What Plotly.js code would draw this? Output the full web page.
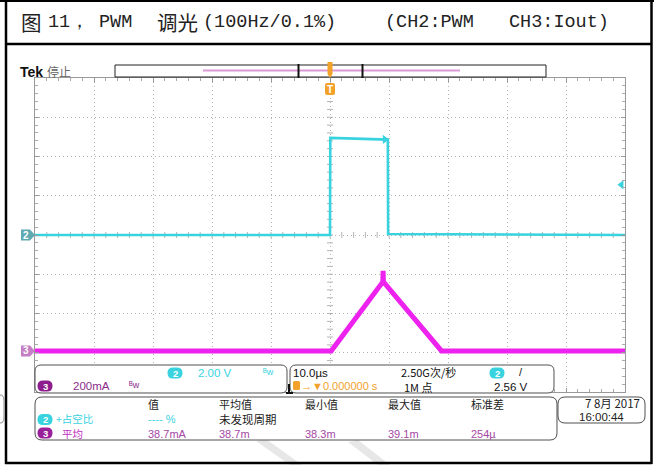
<!DOCTYPE html>
<html><head><meta charset="utf-8">
<script src="https://cdn.plot.ly/plotly-3.0.1.min.js"></script>
<style>html,body{margin:0;padding:0;background:#fff}#chart{width:654px;height:465px}</style>
</head><body><div id="chart"></div>
<script>
// ---------------- data ----------------
const ch2Time = [-50, 0, 0.05, 5, 9.3, 9.8, 9.85, 50];        // µs
const ch2Volt = [0, 0, 4.95, 4.92, 4.88, 4.86, 0.05, 0];      // V
const ch3Time = [-50, 0.2, 8.95, 9.0, 9.05, 18.9, 50];        // µs
const ch3Current = [0, 0, 352, 408, 352, 0, 0];               // mA
const timePerDiv = 10;      // µs/div
const ch2VoltsPerDiv = 2;   // V/div
const ch3AmpsPerDiv = 200;  // mA/div
const ch3OffsetDiv = -2.955;
const triggerLevel = 2.56;  // V
const titlePieces = ['图', '11，', 'PWM', '调光', '(100Hz/0.1%)', '(CH2:PWM', 'CH3:Iout)'];
const measHeaders = ['值', '平均值', '最小值', '最大值', '标准差'];
const ch2MeasLabel = '+占空比';
const ch2Meas = ['---- %', '未发现周期'];
const ch3MeasLabel = '平均';
const ch3Meas = ['38.7mA', '38.7m', '38.3m', '39.1m', '254µ'];

// ---------------- geometry ----------------
const W = 654, H = 465;
const X0 = 35, X1 = 625, Y0 = 78, Y1 = 392;
const px = x => x / W, py = y => 1 - y / H;
const P = (x, y) => `${px(x).toFixed(5)},${py(y).toFixed(5)}`;
const CYAN = '#38d3df', MAG = '#ee22ee', ORANGE = '#f2a22a', GRID = '#b4b4b4';
const SANS = 'Liberation Sans, Noto Sans CJK SC, sans-serif';
const CJK = 'Noto Sans CJK SC, sans-serif';
const MONO = 'Liberation Mono, DejaVu Sans Mono, monospace';

function rrPath(x0, y0, x1, y1, r) {
  return `M${P(x0 + r, y0)} L${P(x1 - r, y0)} Q${P(x1, y0)} ${P(x1, y0 + r)} L${P(x1, y1 - r)} Q${P(x1, y1)} ${P(x1 - r, y1)} L${P(x0 + r, y1)} Q${P(x0, y1)} ${P(x0, y1 - r)} L${P(x0, y0 + r)} Q${P(x0, y0)} ${P(x0 + r, y0)} Z`;
}
const shapes = [];
const ann = [];
function pathShape(path, fill, lineColor, lw, layer) {
  shapes.push({type: 'path', xref: 'paper', yref: 'paper', path, fillcolor: fill || 'rgba(0,0,0,0)',
    line: {color: lineColor || 'rgba(0,0,0,0)', width: lw || 0}, layer: layer || 'above'});
}
function lineShape(x0, y0, x1, y1, color, w, layer) {
  shapes.push({type: 'line', xref: 'paper', yref: 'paper', x0: px(x0), y0: py(y0), x1: px(x1), y1: py(y1),
    line: {color, width: w}, layer: layer || 'above'});
}
function text(x, y, t, size, color, opts) {
  opts = opts || {};
  ann.push({xref: 'paper', yref: 'paper', x: px(x), y: py(y), text: t, showarrow: false, borderpad: 0,
    xanchor: opts.anchor || 'left', yanchor: 'middle',
    font: {family: opts.family || SANS, size, color, weight: opts.weight || 'normal'}});
}
function badge(cx, cy, label, color) {
  pathShape(rrPath(cx - 7.5, cy - 5.5, cx + 7.5, cy + 5.5, 5.5), color, null, 0);
  text(cx, cy, label, 9.5, '#fff', {anchor: 'center', weight: 'bold'});
}

// ---------------- document table frame ----------------
lineShape(0, 1, W, 1, '#000', 2);
lineShape(6, 0, 6, 464, '#000', 2.5);
lineShape(651.5, 0, 651.5, 464, '#000', 2.5);
lineShape(5, 44, 652, 44, '#000', 2.5);
lineShape(5, 463, 652, 463, '#000', 2.5);
const titleX = [20, 47, 98, 156, 202, 384, 508];
const titleCJK = [true, false, false, true, false, false, false];
titlePieces.forEach((t, i) => text(titleX[i], 22, t, titleCJK[i] ? 20.5 : 18.5, '#222',
  {family: titleCJK[i] ? CJK : MONO}));

// ---------------- graticule center ticks ----------------
const divH = (Y1 - Y0) / 8, divW = (X1 - X0) / 10;
const cy = (Y0 + Y1) / 2, cx = (X0 + X1) / 2;
for (let i = 1; i < 50; i++) {
  const x = X0 + i * divW / 5;
  lineShape(x, cy - 3, x, cy + 3, GRID, 1, 'below');
}
for (let j = 1; j < 40; j++) {
  const y = Y0 + j * divH / 5;
  lineShape(cx - 3, y, cx + 3, y, GRID, 1, 'below');
}

// ---------------- header: Tek, record bar ----------------
text(19, 72, 'Tek', 14, '#111', {weight: 'bold', family: 'Liberation Sans, sans-serif'});
text(46, 72, '停止', 12, '#666', {family: CJK});
shapes.push({type: 'rect', xref: 'paper', yref: 'paper', x0: px(115), x1: px(546), y0: py(65), y1: py(77),
  line: {color: '#222', width: 1}, fillcolor: '#fff', layer: 'above'});
lineShape(203, 70.5, 460, 70.5, '#d99ad6', 2);
lineShape(298.5, 64, 298.5, 78, '#111', 2);
lineShape(362.5, 64, 362.5, 78, '#111', 2);
pathShape(`M${P(327.5, 62)} L${P(332.5, 62)} L${P(332.5, 74)} L${P(330, 78)} L${P(327.5, 74)} Z`, ORANGE);
// trigger position marker
pathShape(rrPath(325, 83, 335, 95, 2), ORANGE);
text(330, 89, 'T', 10, '#fff', {anchor: 'center', weight: 'bold'});

// ---------------- channel ground markers ----------------
function gndMarker(yc, label, color) {
  pathShape(`M${P(21, yc - 5.5)} L${P(30, yc - 5.5)} L${P(35, yc)} L${P(30, yc + 5.5)} L${P(21, yc + 5.5)} Z`, color);
  text(26, yc, label, 10, '#fff', {anchor: 'center', weight: 'bold'});
}
gndMarker(Y0 + 4 * divH, '2', '#5fa9b1');
gndMarker(Y0 + (4 - ch3OffsetDiv) * divH, '3', '#c47ec4');

// ---------------- info panels ----------------
const panelLine = '#505050';
pathShape(rrPath(35, 365, 287, 393, 6), '#fff', panelLine, 1);
pathShape(rrPath(290, 365, 554, 393, 6), '#fff', panelLine, 1);
lineShape(289, 384, 289, 393, '#111', 2);
lineShape(286, 393, 293, 393, '#111', 2);
badge(175, 373, '2', CYAN);
text(197, 373, '2.00 V', 11.5, CYAN);
text(262, 372, 'ᴮw', 9, CYAN);
badge(45, 386, '3', '#8d1c8d');
text(72, 386, '200mA', 11.5, '#8a2a8a');
text(128, 385, 'ᴮw', 9, '#8a2a8a');

text(292, 373, '10.0µs', 11.5, '#111');
pathShape(rrPath(293, 381, 300, 390, 1.5), ORANGE);
text(300, 386, '→▼0.000000 s', 11, ORANGE);
text(400, 372, '2.50G次/秒', 11, '#111', {family: CJK});
text(403, 387, '1M 点', 11, '#111', {family: CJK});
badge(497, 373, '2', CYAN);
text(518, 372, '/', 11, '#111');
text(493, 387, '2.56 V', 11.5, '#111');

pathShape(rrPath(35, 397, 557, 440, 7), '#fff', panelLine, 1);
const colX = [147, 218, 304, 387, 470];
measHeaders.forEach((h, i) => text(colX[i], 403.5, h, 11, '#222', {family: CJK}));
badge(45, 419.5, '2', CYAN);
text(55, 418.5, ch2MeasLabel, 10.5, CYAN, {family: CJK});
text(colX[0], 419, ch2Meas[0], 11, CYAN);
text(colX[1], 419, ch2Meas[1], 11.5, '#222', {family: CJK});
badge(45, 433, '3', '#9a1f9a');
text(61, 433.5, ch3MeasLabel, 10.5, '#c030c0', {family: CJK});
ch3Meas.forEach((v, i) => text(colX[i], 433.5, v, 11, '#a547a5'));

pathShape(rrPath(558, 397, 645, 423, 7), '#fff', panelLine, 1);
text(641, 403, '7 8月 2017', 11.5, '#222', {family: CJK, anchor: 'right'});
text(578, 416.5, '16:00:44', 11.5, '#222');
// partial box on left edge
pathShape(`M${P(0, 395)} Q${P(4, 395)} ${P(4, 400)} L${P(4, 418)} Q${P(4, 423)} ${P(0, 423)}`, null, '#888', 1);

// watermark strokes
pathShape(`M${P(256, 441)} L${P(266, 439)} L${P(302, 465)} L${P(290, 465)} Z`, '#e7e7e7', null, 0, 'below');
pathShape(`M${P(348, 442)} L${P(358, 440)} L${P(390, 465)} L${P(378, 465)} Z`, '#e7e7e7', null, 0, 'below');

// ---------------- traces ----------------
const tMin = -5 * timePerDiv, tMax = 5 * timePerDiv;
const traces = [
  {x: ch2Time, y: ch2Volt, type: 'scatter', mode: 'lines', line: {color: CYAN, width: 2.6}, yaxis: 'y', hoverinfo: 'skip'},
  {x: [ch2Time[3] + 4.3], y: [ch2Volt[3] - 0.05], type: 'scatter', mode: 'markers',
    marker: {symbol: 'triangle-right', size: 8, color: CYAN}, yaxis: 'y', hoverinfo: 'skip'},
  {x: ch3Time, y: ch3Current, type: 'scatter', mode: 'lines', line: {color: MAG, width: 5}, yaxis: 'y2', hoverinfo: 'skip'},
  {x: [tMax - 0.6], y: [triggerLevel], type: 'scatter', mode: 'markers', cliponaxis: false,
    marker: {symbol: 'triangle-left', size: 8, color: CYAN}, yaxis: 'y', hoverinfo: 'skip'}
];

const axCommon = {showticklabels: false, showgrid: true, gridcolor: GRID, griddash: '1px,3px', gridwidth: 1,
  zeroline: false, showline: true, mirror: 'ticks', linecolor: '#999', linewidth: 1,
  ticks: 'inside', ticklen: 4, tickcolor: '#999', fixedrange: true};
const layout = {
  width: W, height: H, margin: {l: 0, r: 0, t: 0, b: 0}, paper_bgcolor: '#fff', plot_bgcolor: '#fff',
  showlegend: false,
  xaxis: Object.assign({}, axCommon, {domain: [px(X0), px(X1)], range: [tMin, tMax], dtick: timePerDiv,
    minor: {dtick: timePerDiv / 5, ticks: 'inside', ticklen: 3, tickcolor: '#aaa', showgrid: false}}),
  yaxis: Object.assign({}, axCommon, {domain: [py(Y1), py(Y0)], range: [-4 * ch2VoltsPerDiv, 4 * ch2VoltsPerDiv],
    dtick: ch2VoltsPerDiv, minor: {dtick: ch2VoltsPerDiv / 5, ticks: 'inside', ticklen: 3, tickcolor: '#aaa', showgrid: false}}),
  yaxis2: {overlaying: 'y', visible: false, fixedrange: true,
    range: [(-4 - ch3OffsetDiv) * ch3AmpsPerDiv, (4 - ch3OffsetDiv) * ch3AmpsPerDiv]},
  shapes, annotations: ann
};
Plotly.newPlot('chart', traces, layout, {staticPlot: true, displayModeBar: false});
</script></body></html>
